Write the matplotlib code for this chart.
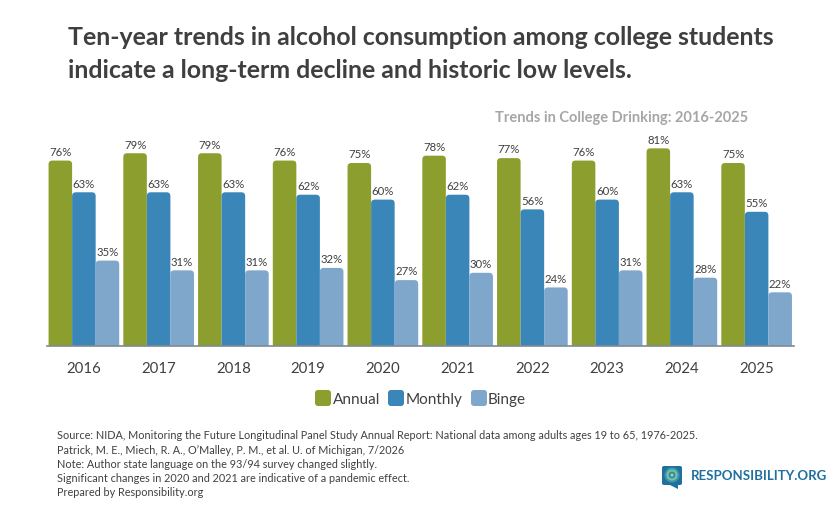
import matplotlib
matplotlib.use('Agg')
import matplotlib.pyplot as plt
from matplotlib.patches import FancyBboxPatch, Circle, Polygon

plt.rcParams['font.family'] = ['Lato', 'DejaVu Sans']

years = ['2016', '2017', '2018', '2019', '2020', '2021', '2022', '2023', '2024', '2025']
annual = [76, 79, 79, 76, 75, 78, 77, 76, 81, 75]
monthly = [63, 63, 63, 62, 60, 62, 56, 60, 63, 55]
binge = [35, 31, 31, 32, 27, 30, 24, 31, 28, 22]

title_lines = ['Ten-year trends in alcohol consumption among college students',
               'indicate a long-term decline and historic low levels.']
source_lines = ['Source: NIDA, Monitoring the Future Longitudinal Panel Study Annual Report: National data among adults ages 19 to 65, 1976-2025.',
                "Patrick, M. E., Miech, R. A., O’Malley, P. M., et al. U. of Michigan, 7/2026",
                'Note: Author state language on the 93/94 survey changed slightly.',
                'Significant changes in 2020 and 2021 are indicative of a pandemic effect.',
                'Prepared by Responsibility.org']

W, H = 840, 506
GREEN = '#8c9f2e'
BLUE = '#3b86b8'
LIGHT = '#7fa6cb'
TEXT = '#404040'

fig = plt.figure(figsize=(W / 100, H / 100), dpi=100, facecolor='white')

# chart area, positions in pixels of the image
left, right, top, bottom = 46.5, 794, 103, 347
ax = fig.add_axes([left / W, 1 - bottom / H, (right - left) / W, (bottom - top) / H])
ax.set_xlim(-0.5, 9.5)
ax.set_ylim(0, 100)
aspect = ((right - left) / 10) / ((bottom - top) / 100)

bar_w = 0.315
series = [(annual, GREEN, -bar_w), (monthly, BLUE, 0), (binge, LIGHT, bar_w)]
for values, color, offset in series:
    for i, v in enumerate(values):
        x = i + offset - bar_w / 2
        ax.add_patch(FancyBboxPatch((x, -6), bar_w, v + 6,
                                    boxstyle='round,pad=0,rounding_size=0.05',
                                    mutation_aspect=aspect, fc=color, ec='none',
                                    clip_on=True))
        ax.text(i + offset, v + 1.5, f'{v}%', ha='center', va='bottom',
                fontsize=8.2, color=TEXT)

for s in ['top', 'left', 'right']:
    ax.spines[s].set_visible(False)
ax.spines['bottom'].set_color('#7f8a94')
ax.spines['bottom'].set_linewidth(1.2)
ax.set_yticks([])
ax.set_xticks(range(10))
ax.set_xticklabels(years, fontsize=10.8, color=TEXT)
ax.tick_params(axis='x', length=0, pad=11)

# overlay in pixel coordinates for the text blocks, legend and logo
ov = fig.add_axes([0, 0, 1, 1], facecolor='none')
ov.set_xlim(0, W)
ov.set_ylim(H, 0)
ov.axis('off')

ov.text(68, 37, title_lines[0], fontsize=17.9, fontweight='bold', color='#3f3f3f', va='center')
ov.text(68, 70, title_lines[1], fontsize=17.9, fontweight='bold', color='#3f3f3f', va='center')
ov.text(748, 118, 'Trends in College Drinking: 2016-2025', fontsize=10.5,
        fontweight='bold', color='#a6a6a6', ha='right', va='center')

legend_items = [('Annual', GREEN, 315, 333), ('Monthly', BLUE, 388, 406), ('Binge', LIGHT, 471, 488)]
for label, color, bx, tx in legend_items:
    ov.add_patch(FancyBboxPatch((bx, 391), 16, 16, boxstyle='round,pad=0,rounding_size=3',
                                fc=color, ec='none'))
    ov.text(tx, 400, label, fontsize=11, color=TEXT, va='center')

for i, line in enumerate(source_lines):
    ov.text(57, 436 + i * 14.2, line, fontsize=7.82, color=TEXT, va='center')

# logo
ov.add_patch(FancyBboxPatch((662, 467), 20, 19, boxstyle='round,pad=0,rounding_size=2',
                            fc='#1f6f9f', ec='none'))
ov.add_patch(Polygon([[670, 486], [678, 486], [678, 490]], fc='#1f6f9f', ec='none'))
for r, c in [(7.5, '#3d9aa8'), (5.5, '#7cc0a8'), (3.5, '#2f8fa5'), (1.5, '#9fd0b0')]:
    ov.add_patch(Circle((672, 476), r, fc=c, ec='none'))
ov.text(691, 476, 'RESPONSIBILITY.ORG', fontsize=9.5, fontweight='bold',
        color='#1f6f9f', va='center')

fig.savefig('out.png', dpi=100, facecolor='white')
